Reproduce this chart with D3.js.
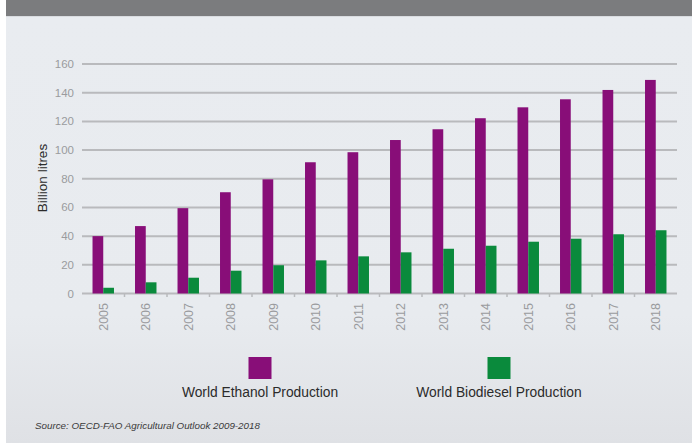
<!DOCTYPE html>
<html><head><meta charset="utf-8">
<script src="https://cdn.jsdelivr.net/npm/d3@7"></script>
<style>
html,body{margin:0;padding:0;background:#fff;}
svg{display:block;font-family:"Liberation Sans",Arial,Helvetica,sans-serif;}
</style></head>
<body>
<svg id="c" width="692" height="443"></svg>
<script>
const years = ["2005","2006","2007","2008","2009","2010","2011","2012","2013","2014","2015","2016","2017","2018"];
const ethanol = [40,47,59.5,70.6,79.6,91.5,98.5,107,114.5,122.2,129.8,135.4,141.9,148.9];
const biodiesel = [4,7.8,11,15.9,19.7,23.1,25.9,28.7,31.2,33.3,36.1,38.2,41.3,44.1];
const seriesNames = ["World Ethanol Production","World Biodiesel Production"];
const seriesColors = ["#880e78","#0a8a3c"];
const yTicks = [0,20,40,60,80,100,120,140,160];
const yLabel = "Billion litres";
const sourceText = "Source: OECD-FAO Agricultural Outlook 2009-2018";

const svg = d3.select("#c");
const defs = svg.append("defs");
const g = defs.append("linearGradient").attr("id","bg").attr("x1",0).attr("y1",0).attr("x2",0).attr("y2",1);
g.append("stop").attr("offset","0").attr("stop-color","#e9ecf0");
g.append("stop").attr("offset","0.7").attr("stop-color","#e8ebef");
g.append("stop").attr("offset","1").attr("stop-color","#dfe1e5");

svg.append("rect").attr("x",6).attr("y",16).attr("width",686).attr("height",427).attr("fill","url(#bg)");
svg.append("rect").attr("x",6).attr("y",0).attr("width",686).attr("height",16).attr("fill","#7b7c7e");
svg.append("rect").attr("x",6).attr("y",16).attr("width",686).attr("height",1).attr("fill","#d9dce0");

const x0 = d3.scaleBand().domain(years).range([82,677]).paddingInner(0).paddingOuter(0);
const x1 = d3.scaleBand().domain([0,1]).range([0,x0.bandwidth()]).paddingInner(0).paddingOuter(0.98);
const y = d3.scaleLinear().domain([0,160]).range([293.5,64]);

// gridlines
svg.append("g").selectAll("line").data(yTicks).join("line")
  .attr("x1",82).attr("x2",677).attr("y1",d=>y(d)).attr("y2",d=>y(d))
  .attr("stroke","#b9babd").attr("stroke-width",2);

// y tick labels
svg.append("g").selectAll("text").data(yTicks).join("text")
  .attr("x",74).attr("y",d=>y(d)).attr("dy","0.35em").attr("text-anchor","end")
  .attr("font-size",11.5).attr("fill","#9a9b9e").text(d=>d);

// y label
svg.append("text").attr("transform","translate(47,178) rotate(-90)")
  .attr("text-anchor","middle").attr("font-size",13.5).attr("fill","#2b2b2b").text(yLabel);

// bars
const series = [ethanol, biodiesel];
series.forEach((vals,si)=>{
  svg.append("g").selectAll("rect").data(years).join("rect")
    .attr("x",(d)=>x0(d)+x1(si)).attr("width",x1.bandwidth())
    .attr("y",(d,i)=>y(vals[i])).attr("height",(d,i)=>y(0)-y(vals[i]))
    .attr("fill",seriesColors[si]);
});

// x tick marks at band boundaries
svg.append("g").selectAll("line").data(years.slice(1)).join("line")
  .attr("x1",d=>x0(d)).attr("x2",d=>x0(d)).attr("y1",294).attr("y2",297)
  .attr("stroke","#b9babd").attr("stroke-width",1.5);

// year labels
svg.append("g").selectAll("text").data(years).join("text")
  .attr("transform",d=>`translate(${x0(d)+x0.bandwidth()/2},303) rotate(-90)`)
  .attr("text-anchor","end").attr("dy","0.35em")
  .attr("font-size",12.5).attr("fill","#9a9b9e").text(d=>d);

// legend
const legX = [260,499];
seriesNames.forEach((n,i)=>{
  svg.append("rect").attr("x",legX[i]-11.5).attr("y",357).attr("width",23).attr("height",22).attr("fill",seriesColors[i]);
  svg.append("text").attr("x",legX[i]).attr("y",397).attr("text-anchor","middle")
    .attr("font-size",13.8).attr("fill","#2b2b2b").text(n);
});

// source
svg.append("text").attr("x",35).attr("y",429).attr("font-size",9.8).attr("font-style","italic")
  .attr("fill","#3a3a3a").text(sourceText);
</script>
</body></html>
